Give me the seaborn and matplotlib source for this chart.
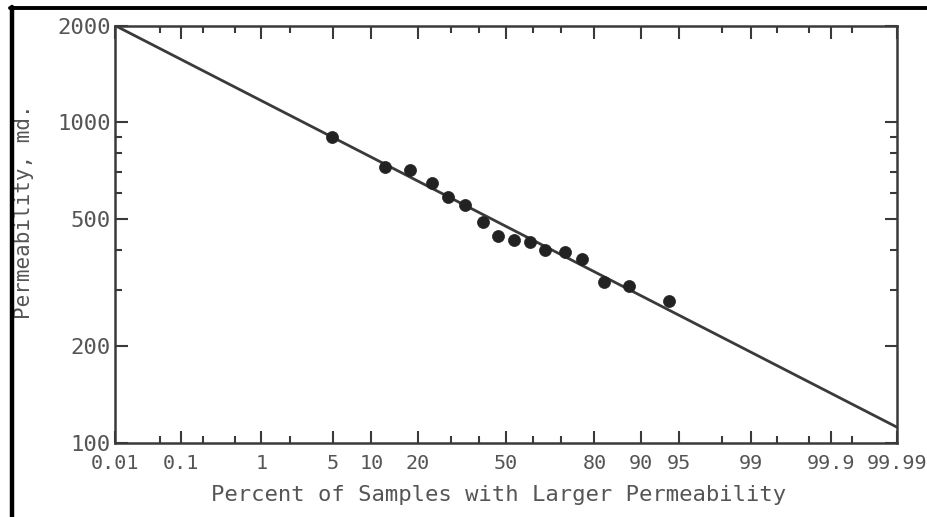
import numpy as np
import pandas as pd
import matplotlib
matplotlib.use("Agg")
import matplotlib.pyplot as plt
from matplotlib.ticker import FixedLocator, FixedFormatter, NullFormatter
from matplotlib.lines import Line2D
from statistics import NormalDist
import seaborn as sns

# Core sample permeabilities (md) and their plotting positions (% larger)
percent_larger = [4.9, 12.4, 18.1, 24.2, 29.2, 34.9, 41.2, 46.8,
                  53.0, 59.2, 64.4, 71.2, 76.6, 82.4, 87.9, 94.0]
permeability = [898, 722, 707, 646, 584, 551, 490, 442,
                430, 423, 398, 395, 374, 317, 309, 277]

# Fitted log-normal line end points
fit_percent = [0.01, 99.99]
fit_perm = [2000, 112]

# Axis tick values
x_major = [0.01, 0.1, 1, 5, 10, 20, 50, 80, 90, 95, 99, 99.9, 99.99]
x_labels = ["0.01", "0.1", "1", "5", "10", "20", "50", "80", "90", "95",
            "99", "99.9", "99.99"]
x_minor = [0.05, 0.2, 0.5, 2, 30, 40, 60, 70, 98, 99.5, 99.8, 99.95]
y_major = [100, 200, 500, 1000, 2000]
y_labels = ["100", "200", "500", "1000", "2000"]
y_minor = [300, 400, 600, 700, 800, 900]

sns.set_style("ticks")
plt.rcParams["font.family"] = ["DejaVu Sans Mono", "DejaVu Sans"]

_nd = NormalDist()
_inv_cdf = np.vectorize(_nd.inv_cdf, otypes=[float])
_cdf = np.vectorize(_nd.cdf, otypes=[float])


def probit(x):
    x = np.asarray(x, dtype=float)
    p = np.clip(x / 100.0, 1e-9, 1 - 1e-9)
    return _inv_cdf(p)


def inv_probit(z):
    z = np.asarray(z, dtype=float)
    return _cdf(z) * 100.0


ink = "#3a3a3a"
text_c = "#555555"

fig = plt.figure(figsize=(9.28, 5.17), dpi=100)
ax = fig.add_axes([115 / 928, 1 - 443 / 517, (897 - 115) / 928, (443 - 25.5) / 517])

ax.set_xscale("function", functions=(probit, inv_probit))
ax.set_yscale("log")

df_pts = pd.DataFrame({"pct": percent_larger, "k": permeability})
df_fit = pd.DataFrame({"pct": fit_percent, "k": fit_perm})

sns.lineplot(data=df_fit, x="pct", y="k", ax=ax, color=ink, linewidth=2.0,
             sort=False, estimator=None)
sns.scatterplot(data=df_pts, x="pct", y="k", ax=ax, color="#222222", s=75,
                edgecolor="#222222", linewidth=0.5, zorder=3)

ax.set_xlim(0.01, 99.99)
ax.set_ylim(100, 2000)

ax.xaxis.set_major_locator(FixedLocator(x_major))
ax.xaxis.set_major_formatter(FixedFormatter(x_labels))
ax.xaxis.set_minor_locator(FixedLocator(x_minor))
ax.xaxis.set_minor_formatter(NullFormatter())
ax.yaxis.set_major_locator(FixedLocator(y_major))
ax.yaxis.set_major_formatter(FixedFormatter(y_labels))
ax.yaxis.set_minor_locator(FixedLocator(y_minor))
ax.yaxis.set_minor_formatter(NullFormatter())

for side in ["left", "right", "top", "bottom"]:
    ax.spines[side].set_visible(True)
    ax.spines[side].set_color(ink)
    ax.spines[side].set_linewidth(1.8)

ax.tick_params(which="both", direction="in", top=True, right=True,
               color=ink, width=1.5, labelcolor=text_c)
ax.tick_params(which="major", length=9)
ax.tick_params(which="minor", length=5)
ax.tick_params(axis="x", which="major", pad=8, labelsize=14.5)
ax.tick_params(axis="y", which="major", pad=3, labelsize=16)

ax.set_xlabel("Percent of Samples with Larger Permeability", fontsize=16,
              color=text_c)
ax.set_ylabel("Permeability, md.", fontsize=15, color=text_c)
ax.xaxis.set_label_coords((499 - 115) / 782, -(485 - 443) / 417.5)
ax.yaxis.set_label_coords(-(115 - 34) / 782, (443 - 212) / 417.5)

# Scanned-page border on the left and top edges
fig.add_artist(Line2D([12 / 928, 12 / 928], [0, 1 - 7 / 517],
                      transform=fig.transFigure, color="black", linewidth=3.2))
fig.add_artist(Line2D([10 / 928, 1], [1 - 7.5 / 517, 1 - 7.5 / 517],
                      transform=fig.transFigure, color="black", linewidth=2.8))

fig.savefig("out.png", dpi=100)
